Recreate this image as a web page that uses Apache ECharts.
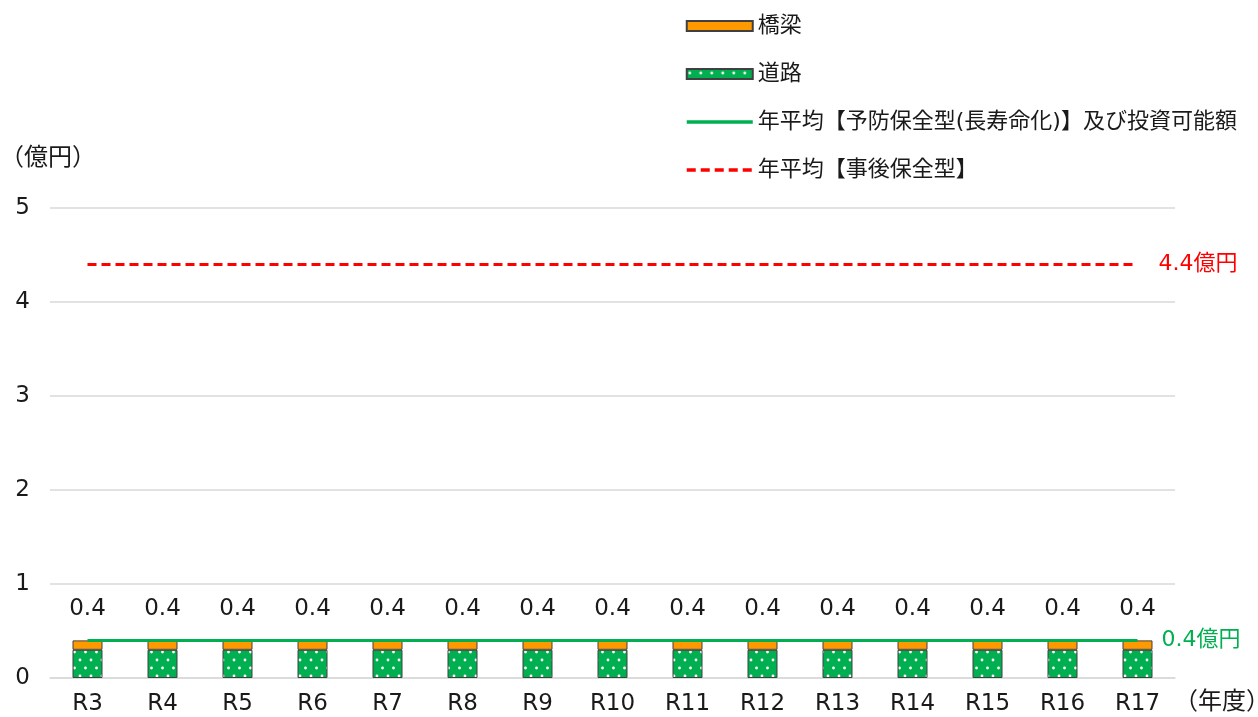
<!DOCTYPE html>
<html>
<head>
<meta charset="utf-8">
<script src="https://cdn.jsdelivr.net/npm/echarts@6/dist/echarts.min.js"></script>
<style>
  html, body { margin: 0; padding: 0; background: #fff; }
  #chart { width: 1258px; height: 717px; }
</style>
</head>
<body>
<div id="chart"></div>
<script>
//fiscal years
const years = ["R3", "R4", "R5", "R6", "R7", "R8", "R9", "R10", "R11", "R12", "R13", "R14", "R15", "R16", "R17"];

//stacked costs (億円)
const roadCost = [0.3, 0.3, 0.3, 0.3, 0.3, 0.3, 0.3, 0.3, 0.3, 0.3, 0.3, 0.3, 0.3, 0.3, 0.3];
const bridgeCost = [0.1, 0.1, 0.1, 0.1, 0.1, 0.1, 0.1, 0.1, 0.1, 0.1, 0.1, 0.1, 0.1, 0.1, 0.1];
const totalLabels = ["0.4", "0.4", "0.4", "0.4", "0.4", "0.4", "0.4", "0.4", "0.4", "0.4", "0.4", "0.4", "0.4", "0.4", "0.4"];

//yearly averages
const preventiveAvg = [0.4, 0.4, 0.4, 0.4, 0.4, 0.4, 0.4, 0.4, 0.4, 0.4, 0.4, 0.4, 0.4, 0.4, 0.4];
const reactiveAvg = [4.4, 4.4, 4.4, 4.4, 4.4, 4.4, 4.4, 4.4, 4.4, 4.4, 4.4, 4.4, 4.4, 4.4, 4.4];

const font = "'DejaVu Sans', 'Noto Sans CJK JP', sans-serif";
const txt = "#1a1a1a";

//green fill with small white dots
function dotPattern() {
    const c = document.createElement("canvas");
    c.width = 11;
    c.height = 16;
    const ctx = c.getContext("2d");
    ctx.fillStyle = "#00b050";
    ctx.fillRect(0, 0, 11, 16);
    ctx.fillStyle = "#ffffff";
    [[3, 4], [8.5, 12]].forEach(p => {
        ctx.beginPath();
        ctx.arc(p[0], p[1], 1.4, 0, Math.PI * 2);
        ctx.fill();
    });
    return c;
}

const chart = echarts.init(document.getElementById("chart"));

const option = {
    animation: false,
    textStyle: { fontFamily: font },
    grid: { left: 50, right: 83, top: 208, bottom: 39 },
    legend: {
        orient: "vertical",
        left: 680,
        top: 10,
        itemWidth: 66,
        itemHeight: 10,
        itemGap: 26,
        textStyle: { fontSize: 22, color: txt, fontFamily: font },
        data: [
            { name: "橋梁", icon: "rect" },
            { name: "道路", icon: "rect" },
            { name: "年平均【予防保全型(長寿命化)】及び投資可能額", itemStyle: { opacity: 0 }, lineStyle: { width: 3.5 } },
            { name: "年平均【事後保全型】", itemStyle: { opacity: 0 }, lineStyle: { width: 3.5, type: [9, 5] } }
        ]
    },
    graphic: [
        { type: "text", left: 0, top: 147, style: { text: "（億円）", font: "24px " + font, fill: txt } },
        { type: "text", left: 1174, top: 691, style: { text: "（年度）", font: "24px " + font, fill: txt } }
    ],
    xAxis: {
        type: "category",
        data: years,
        axisLine: { lineStyle: { color: "#d9d9d9", width: 1.5 } },
        axisTick: { show: false },
        axisLabel: { fontSize: 23, color: txt, margin: 15 }
    },
    yAxis: {
        type: "value",
        min: 0,
        max: 5,
        interval: 1,
        axisLine: { show: false },
        axisTick: { show: false },
        axisLabel: { fontSize: 23, color: txt, margin: 20 },
        splitLine: { lineStyle: { color: "#d9d9d9", width: 1.5 } }
    },
    series: [
        {
            name: "道路",
            type: "bar",
            stack: "cost",
            barWidth: 30,
            data: roadCost,
            itemStyle: {
                color: { image: dotPattern(), repeat: "repeat" },
                borderColor: "#404040",
                borderWidth: 1
            }
        },
        {
            name: "橋梁",
            type: "bar",
            stack: "cost",
            barWidth: 30,
            data: bridgeCost,
            itemStyle: { color: "#ff9900", borderColor: "#404040", borderWidth: 1 },
            label: {
                show: true,
                position: "top",
                distance: 20,
                fontSize: 23,
                color: txt,
                formatter: p => totalLabels[p.dataIndex]
            }
        },
        {
            name: "年平均【予防保全型(長寿命化)】及び投資可能額",
            type: "line",
            data: preventiveAvg,
            symbol: "none",
            lineStyle: { color: "#00b050", width: 3 },
            itemStyle: { color: "#00b050" },
            endLabel: {
                show: true,
                formatter: "0.4億円",
                fontSize: 22,
                color: "#00b050",
                distance: 24
            },
            z: 5
        },
        {
            name: "年平均【事後保全型】",
            type: "line",
            data: reactiveAvg,
            symbol: "none",
            lineStyle: { color: "#ff0000", width: 3, type: [9, 5] },
            itemStyle: { color: "#ff0000" },
            endLabel: {
                show: true,
                formatter: "4.4億円",
                fontSize: 22,
                color: "#ff0000",
                distance: 21
            }
        }
    ]
};

chart.setOption(option);
</script>
</body>
</html>
